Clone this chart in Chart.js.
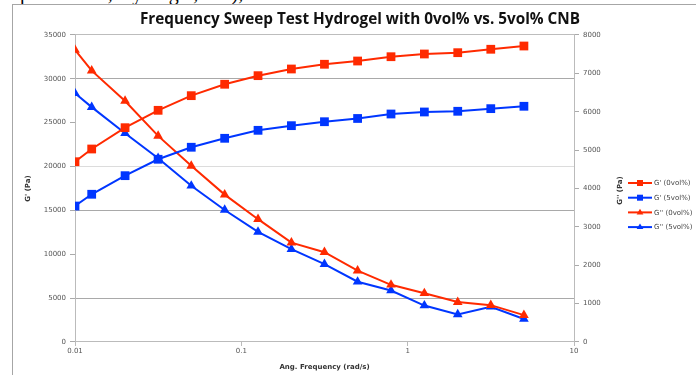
<!DOCTYPE html>
<html>
<head>
<meta charset="utf-8">
<script src="https://cdn.jsdelivr.net/npm/chart.js@4/dist/chart.umd.min.js"></script>
<style>
  html, body { margin: 0; padding: 0; background: #fff; }
  #wrap { position: relative; width: 696px; height: 375px; overflow: hidden; }
  #frame { position: absolute; left: 12px; top: 4px; width: 720px; height: 400px;
           border-left: 1px solid #a6a6a6; border-top: 1px solid #a6a6a6; }
  #cut { position: absolute; left: 20px; top: -18px; font: 20px "Liberation Serif", serif;
         color: #000; white-space: nowrap; }
  canvas { position: absolute; left: 0; top: 0; }
</style>
</head>
<body>
<div id="wrap">
  <div id="cut">parameters, Hydrogel, etc.),</div>
  <div id="frame"></div>
  <canvas id="chart" width="696" height="375"></canvas>
</div>
<script>
// 周波数 (rad/s)
const freq = [0.01, 0.0126, 0.02, 0.0316, 0.05, 0.0794, 0.126, 0.2, 0.316, 0.5, 0.794, 1.26, 2, 3.16, 5];
// G' (Pa) 左軸
const gp0 = [20550, 22000, 24430, 26410, 28080, 29380, 30360, 31120, 31660, 32030, 32520, 32830, 32980, 33370, 33740];
const gp5 = [15500, 16840, 18960, 20830, 22200, 23220, 24130, 24660, 25110, 25480, 25990, 26220, 26300, 26600, 26870];
// G'' (Pa) 右軸
const gpp0 = [7610, 7070, 6280, 5370, 4590, 3840, 3200, 2590, 2340, 1860, 1490, 1270, 1040, 960, 700];
const gpp5 = [6480, 6120, 5440, 4790, 4070, 3440, 2870, 2420, 2030, 1570, 1340, 950, 720, 920, 600];

const seriesNames = ["G' (0vol%)", "G' (5vol%)", "G'' (0vol%)", "G'' (5vol%)"];
const xTicks = [0.01, 0.1, 1, 10];

const RED = '#ff2a00';
const BLUE = '#0036ff';
const TICK_FONT = { family: "'DejaVu Sans', sans-serif", size: 7 };

function pts(ys) {
    return freq.map((f, i) => ({ x: f, y: ys[i] }));
}

function makeSet(label, ys, color, style, axis) {
    return {
        label: label,
        data: pts(ys),
        yAxisID: axis,
        borderColor: color,
        backgroundColor: color,
        borderWidth: 2,
        pointStyle: style,
        pointRadius: style === 'rect' ? 6.2 : 5.6,
        pointBorderWidth: 0,
        tension: 0
    };
}

// 凡例と右軸タイトルを描くプラグイン
const sidePlugin = {
    id: 'side',
    afterDraw(chart) {
        const ctx = chart.ctx;
        const y2 = chart.scales.y2;
        ctx.save();
        // 右軸タイトル (下から上へ)
        ctx.translate(y2.left + 46, (chart.chartArea.top + chart.chartArea.bottom) / 2 + 2);
        ctx.rotate(-Math.PI / 2);
        ctx.font = "bold 7px 'DejaVu Sans', sans-serif";
        ctx.fillStyle = '#333';
        ctx.textAlign = 'center';
        ctx.textBaseline = 'middle';
        ctx.fillText("G'' (Pa)", 0, 0);
        ctx.restore();

        // 凡例
        ctx.save();
        chart.data.datasets.forEach((ds, i) => {
            const y = 183 + i * 14.7;
            const x0 = y2.left + 54, x1 = x0 + 24, xm = (x0 + x1) / 2;
            ctx.strokeStyle = ds.borderColor;
            ctx.fillStyle = ds.borderColor;
            ctx.lineWidth = 2;
            ctx.beginPath();
            ctx.moveTo(x0, y);
            ctx.lineTo(x1, y);
            ctx.stroke();
            ctx.beginPath();
            if (ds.pointStyle === 'rect') {
                ctx.rect(xm - 3, y - 3, 6, 6);
            } else {
                ctx.moveTo(xm, y - 3.6);
                ctx.lineTo(xm + 3.4, y + 2);
                ctx.lineTo(xm - 3.4, y + 2);
                ctx.closePath();
            }
            ctx.fill();
            ctx.font = "7px 'DejaVu Sans', sans-serif";
            ctx.fillStyle = '#444';
            ctx.textBaseline = 'middle';
            ctx.fillText(ds.label, x1 + 2, y + 0.5);
        });
        ctx.restore();
    }
};

// 灰色の濃さが目盛ごとに違う横グリッド
function gridColor(ctx) {
    const v = ctx.tick && ctx.tick.value;
    if (v === 25000 || v === 10000) return 'rgba(0,0,0,0)';
    if (v === 20000) return '#dcdcdc';
    if (v === 35000) return '#bdbdbd';
    return '#a9a9a9';
}

new Chart(document.getElementById('chart'), {
    type: 'line',
    data: {
        datasets: [
            makeSet(seriesNames[0], gp0, RED, 'rect', 'y'),
            makeSet(seriesNames[1], gp5, BLUE, 'rect', 'y'),
            makeSet(seriesNames[2], gpp0, RED, 'triangle', 'y2'),
            makeSet(seriesNames[3], gpp5, BLUE, 'triangle', 'y2')
        ]
    },
    options: {
        responsive: false,
        animation: false,
        layout: { padding: { left: 24, right: 0, top: 0, bottom: 0 } },
        plugins: {
            legend: { display: false },
            tooltip: { enabled: false },
            title: {
                display: true,
                text: 'Frequency Sweep Test Hydrogel with 0vol% vs. 5vol% CNB',
                color: '#111',
                font: { family: "'Open Sans', sans-serif", size: 15.3, weight: 'bold', lineHeight: 1.2 },
                padding: { top: 10.8, bottom: 5.8 }
            }
        },
        scales: {
            x: {
                type: 'logarithmic',
                min: 0.01,
                max: 10,
                afterBuildTicks: (scale) => { scale.ticks = xTicks.map(v => ({ value: v })); },
                afterFit: (scale) => { scale.height = 33; },
                ticks: {
                    font: TICK_FONT,
                    color: '#555',
                    padding: 1,
                    maxRotation: 0,
                    callback: (v) => String(v)
                },
                grid: { drawOnChartArea: false, tickLength: 4, color: '#bbb' },
                border: { color: '#bbb' },
                title: {
                    display: true,
                    text: 'Ang. Frequency (rad/s)',
                    color: '#333',
                    font: { family: "'DejaVu Sans', sans-serif", size: 7, weight: 'bold' },
                    padding: { top: 0, bottom: 4 }
                }
            },
            y: {
                position: 'left',
                min: 0,
                max: 35000,
                afterFit: (scale) => { scale.width = 51; },
                ticks: { stepSize: 5000, font: TICK_FONT, color: '#555', padding: 4, callback: (v) => String(v) },
                grid: { color: gridColor, tickColor: '#aaa', tickLength: 5 },
                border: { color: '#bbb' },
                title: {
                    display: true,
                    text: "G' (Pa)",
                    color: '#333',
                    font: { family: "'DejaVu Sans', sans-serif", size: 7, weight: 'bold' },
                    padding: 0
                }
            },
            y2: {
                position: 'right',
                min: 0,
                max: 8000,
                afterFit: (scale) => { scale.width = 122; },
                ticks: { stepSize: 1000, font: TICK_FONT, color: '#555', padding: 4, callback: (v) => String(v) },
                grid: { drawOnChartArea: false, color: '#aaa', tickLength: 5 },
                border: { color: '#bbb' }
            }
        }
    },
    plugins: [sidePlugin]
});
</script>
</body>
</html>
